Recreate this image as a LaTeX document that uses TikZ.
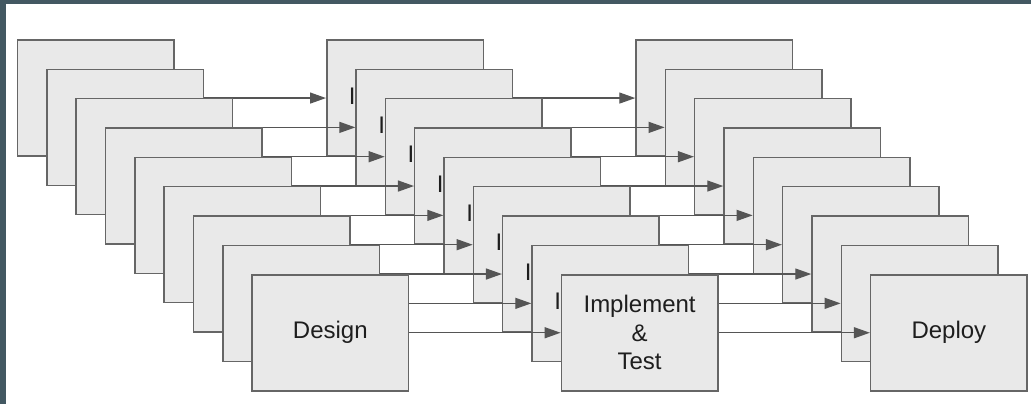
\documentclass[tikz,border=0pt]{standalone}
\usepackage{fontspec}
\setmainfont{Liberation Sans}
\usetikzlibrary{arrows.meta}
\definecolor{frame}{HTML}{435862}
\definecolor{cardfill}{HTML}{E9E9E9}
\definecolor{cardline}{HTML}{666666}
\definecolor{arrowgray}{HTML}{555555}
\definecolor{ink}{HTML}{1E1E1E}
\begin{document}
\begin{tikzpicture}[x=1pt,y=-1pt,
  card/.style={draw=cardline, fill=cardfill, line width=1.5pt,
    minimum width=156.5pt, minimum height=116pt, inner sep=0pt,
    anchor=north west, font=\fontsize{24}{28.5}\selectfont,
    text=ink, align=center},
  flow/.style={draw=arrowgray, line width=1.3pt,
    -{Triangle[length=16pt,width=11pt]}}]
  \useasboundingbox (0,0) rectangle (1031,404);
  % dark frame on the left and top edges
  \fill[frame] (0,0) rectangle (1031,404);
  \fill[white] (6,4) rectangle (1031,404);
  % nine staggered rows of design -> implement -> deploy
  \foreach \k in {0,...,7} {
    \pgfmathsetmacro\px{16.7+29.33*\k}
    \pgfmathsetmacro\py{39.3+29.33*\k}
    \node[card] (a\k) at (\px,\py) {};
    \node[card] (b\k) at (\px+309.3,\py) {I\phantom{mplement}};
    \node[card] (c\k) at (\px+618.6,\py) {};
    \draw[flow] (a\k) -- (b\k);
    \draw[flow] (b\k) -- (c\k);
  }
  % front row
  \node[card] (a8) at (251.3,274) {Design};
  \node[card] (b8) at (560.6,274) {Implement\\\&\\Test};
  \node[card] (c8) at (869.9,274) {Deploy};
  \draw[flow] (a8) -- (b8);
  \draw[flow] (b8) -- (c8);
\end{tikzpicture}
\end{document}
